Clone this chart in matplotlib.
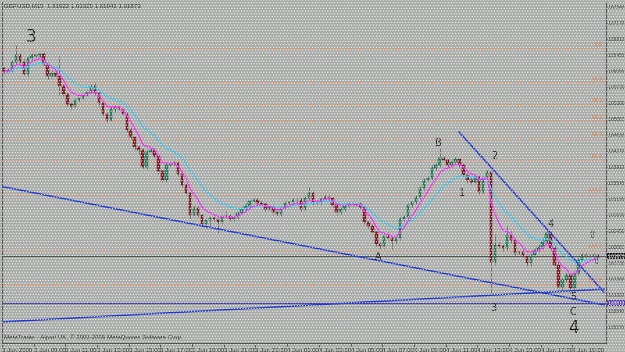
import numpy as np
import pandas as pd
import matplotlib
matplotlib.use("Agg")
import matplotlib.pyplot as plt
from matplotlib.patches import Rectangle

# ---- data (GBPUSD M15) ----
first_open = 1.6615
closes = [
    1.6606, 1.6611, 1.6629, 1.6645, 1.6629, 1.6602, 1.6638, 1.6645, 1.6643, 1.6647,
    1.6625, 1.6597, 1.6604, 1.6597, 1.6575, 1.6556, 1.6534, 1.6529, 1.6543, 1.6547,
    1.6554, 1.6561, 1.6575, 1.6559, 1.6536, 1.6511, 1.6497, 1.6522, 1.6527, 1.6522,
    1.6511, 1.6475, 1.6459, 1.6436, 1.6429, 1.6390, 1.6425, 1.6429, 1.6415, 1.6381,
    1.6361, 1.6395, 1.6397, 1.6400, 1.6375, 1.6350, 1.6331, 1.6281, 1.6297, 1.6281,
    1.6261, 1.6270, 1.6275, 1.6272, 1.6265, 1.6277, 1.6279, 1.6272, 1.6277, 1.6286,
    1.6295, 1.6302, 1.6313, 1.6315, 1.6309, 1.6306, 1.6295, 1.6300, 1.6288, 1.6284,
    1.6297, 1.6309, 1.6311, 1.6315, 1.6315, 1.6295, 1.6320, 1.6331, 1.6311, 1.6311,
    1.6318, 1.6322, 1.6320, 1.6304, 1.6288, 1.6295, 1.6302, 1.6306, 1.6306, 1.6306,
    1.6300, 1.6265, 1.6256, 1.6243, 1.6215, 1.6211, 1.6234, 1.6229, 1.6222, 1.6229,
    1.6272, 1.6277, 1.6304, 1.6311, 1.6322, 1.6343, 1.6361, 1.6365, 1.6388, 1.6395,
    1.6411, 1.6406, 1.6395, 1.6402, 1.6409, 1.6395, 1.6372, 1.6361, 1.6356, 1.6368,
    1.6334, 1.6365, 1.6379, 1.6175, 1.6213, 1.6211, 1.6206, 1.6236, 1.6225, 1.6195,
    1.6197, 1.6188, 1.6172, 1.6190, 1.6202, 1.6209, 1.6220, 1.6240, 1.6206, 1.6168,
    1.6118, 1.6134, 1.6145, 1.6115, 1.6150, 1.6179, 1.6190, 1.6188, 1.6188, 1.6190,
    1.6187,
]
# wick lengths beyond the body, in pips
wick_up = [
    3, 4, 5, 23, 4, 6, 5, 4, 3, 5,
    4, 3, 6, 4, 45, 5, 3, 4, 4, 3,
    5, 4, 4, 6, 3, 4, 5, 6, 3, 4,
    5, 4, 6, 3, 5, 4, 6, 5, 4, 3,
    4, 8, 5, 6, 4, 3, 5, 4, 6, 5,
    3, 4, 5, 4, 3, 5, 12, 4, 3, 5,
    4, 6, 3, 5, 4, 6, 5, 3, 4, 6,
    5, 4, 3, 5, 6, 8, 4, 15, 4, 3,
    5, 6, 4, 3, 5, 4, 3, 4, 6, 3,
    4, 5, 3, 4, 5, 6, 4, 8, 5, 3,
    6, 4, 5, 3, 4, 6, 4, 5, 6, 4,
    23, 5, 4, 6, 5, 3, 4, 5, 6, 4,
    5, 4, 6, 3, 25, 6, 4, 20, 8, 5,
    4, 6, 4, 3, 5, 6, 8, 4, 5, 6,
    10, 5, 6, 4, 3, 8, 6, 4, 5, 4,
    3,
]
wick_dn = [
    4, 3, 5, 4, 6, 3, 5, 4, 3, 4,
    5, 6, 4, 3, 20, 4, 5, 6, 3, 4,
    4, 3, 5, 4, 6, 5, 4, 3, 6, 4,
    3, 5, 4, 6, 8, 5, 4, 3, 5, 6,
    4, 5, 3, 4, 6, 5, 4, 8, 5, 4,
    6, 10, 14, 5, 25, 4, 3, 6, 4, 5,
    3, 4, 5, 4, 6, 3, 4, 5, 6, 4,
    5, 3, 4, 6, 4, 5, 4, 3, 6, 5,
    4, 3, 5, 4, 6, 5, 4, 3, 5, 4,
    6, 5, 4, 3, 6, 8, 5, 4, 18, 6,
    5, 4, 3, 6, 4, 5, 4, 3, 5, 4,
    4, 5, 6, 4, 3, 5, 4, 6, 5, 4,
    6, 5, 4, 70, 8, 5, 6, 4, 8, 6,
    5, 4, 8, 6, 4, 5, 4, 3, 5, 6,
    8, 10, 6, 12, 5, 4, 3, 5, 4, 3,
    4,
]

time_labels = ["3 Jun 2009", "3 Jun 09:00", "3 Jun 11:00", "3 Jun 13:00", "3 Jun 15:00",
               "3 Jun 17:00", "3 Jun 19:00", "3 Jun 21:00", "3 Jun 23:00", "4 Jun 01:00",
               "4 Jun 03:00", "4 Jun 05:00", "4 Jun 07:00", "4 Jun 09:00", "4 Jun 11:00",
               "4 Jun 13:00", "4 Jun 15:00", "4 Jun 17:00", "4 Jun 19:00"]
price_ticks = [1.67540, 1.67170, 1.66810, 1.66450, 1.66080, 1.65720, 1.65360, 1.65000,
               1.64630, 1.64270, 1.63910, 1.63540, 1.63180, 1.62820, 1.62450, 1.62090,
               1.61730, 1.61360, 1.61000, 1.60640, 1.60270]

fib_high = 1.6661
fib_low = 1.6329
fib_levels = [0.0, 23.6, 38.2, 50.0, 61.8, 76.4, 100.0, 138.2, 161.8]

# trendlines: (bar0, price0, bar1, price1)
trendlines = [(-1.0, 1.6347, 151.5, 1.6077),
              (-1.0, 1.6038, 151.5, 1.6113),
              (114.9, 1.6470, 151.5, 1.6106)]
bid_price = 1.61873
hline_price = 1.6081

wave_labels = [("B", 109.6, 1.6445), ("2", 123.8, 1.6415), ("1", 115.6, 1.6331),
               ("A", 94.5, 1.6185), ("3", 123.5, 1.6070), ("4", 138.0, 1.6262),
               ("5", 143.7, 1.6095), ("C", 143.7, 1.6061)]

# ---- build OHLC ----
closes = np.array(closes)
opens = np.concatenate([[first_open], closes[:-1]])
highs = np.maximum(opens, closes) + np.array(wick_up) / 10000
lows = np.minimum(opens, closes) - np.array(wick_dn) / 10000
bars = np.arange(len(closes))
ma_fast = pd.Series(closes).ewm(span=6, adjust=False).mean()
ma_slow = pd.Series(closes).ewm(span=14, adjust=False).mean()

BG = "#a9aca8"
SMALL = "Liberation Sans"
plt.rcParams['hatch.color'] = '#f4f4f4'
plt.rcParams['hatch.linewidth'] = 0.45
fig = plt.figure(figsize=(6.25, 3.52), dpi=100, facecolor=BG)

ax = fig.add_axes([2 / 625, 1 - 343 / 352, 604 / 625, 341 / 352])
ax.set_facecolor("none")
ax.set_xlim(-0.5, 152.0)
ax.set_ylim(1.59904, 1.67655)

# fibonacci levels
rng = fib_high - fib_low
for lvl in fib_levels:
    p = fib_high - lvl / 100 * rng
    ax.axhline(p, color="#e2946c", lw=0.8, ls=(0, (7, 4)), zorder=1)
    ax.text(151.3, p + 0.0002, f"{lvl:.1f}", color="#e0703a", fontsize=4.4, family=SMALL,
            ha="right", va="bottom", zorder=2)

ax.axhline(bid_price, color="#505050", lw=0.8, zorder=2)
ax.axhline(hline_price, color="#3a30a8", lw=0.9, zorder=2)

# candles
up = closes >= opens
ax.vlines(bars, lows, highs, color="#6a6a6a", lw=0.7, zorder=3)
body_bottom = np.minimum(opens, closes)
body_h = np.maximum(np.abs(closes - opens), 0.00006)
ax.bar(bars[up], body_h[up], bottom=body_bottom[up], width=0.62,
       color="#1f8a62", edgecolor="#0c4a30", linewidth=0.3, zorder=4)
ax.bar(bars[~up], body_h[~up], bottom=body_bottom[~up], width=0.62,
       color="#8c1a22", edgecolor="#4a0a10", linewidth=0.3, zorder=4)

ax.plot(bars, ma_slow, color="#27c4f2", lw=0.9, zorder=5)
ax.plot(bars, ma_fast, color="#ff1aff", lw=0.9, zorder=5)

for x0, y0, x1, y1 in trendlines:
    ax.plot([x0, x1], [y0, y1], color="#1c34d0", lw=1.1, zorder=6, clip_on=True)

for txt, bx, py in wave_labels:
    ax.text(bx, py, txt, fontsize=7, color="#1a1a1a", ha="center", va="center", zorder=7)
ax.text(6.8, 1.6686, "3", fontsize=12, color="#1a1a1a", ha="center", va="center", zorder=7)
ax.text(143.7, 1.6025, "4", fontsize=12, color="#1a1a1a", ha="center", va="center", zorder=7)
ax.text(148.5, 1.6236, "\u21e7", fontsize=8, color="#404040", ha="center", va="center", zorder=7)
ax.text(149.5, 1.6177, "\u21e7", fontsize=8, color="#404040", ha="center", va="center", zorder=7)

ax.text(0.0, 1.6757, "GBPUSD,M15  1.61922 1.61925 1.61841 1.61873", fontsize=4.4,
        family=SMALL, color="#202020", ha="left", va="center", zorder=7)
ax.text(0.0, 1.6003, "MetaTrader - Alpari UK, \u00a9 2001-2009 MetaQuotes Software Corp.",
        fontsize=4.4, family=SMALL, color="#202020", ha="left", va="center", zorder=7)

# axes styling
ax.spines["top"].set_visible(False)
for s in ["left", "right", "bottom"]:
    ax.spines[s].set_color("#505050")
    ax.spines[s].set_linewidth(0.8)
ax.yaxis.tick_right()
ax.set_yticks(price_ticks)
ax.set_yticklabels([f"{v:.5f}" for v in price_ticks], family=SMALL)
ax.tick_params(axis="y", labelsize=3.4, colors="#303030", length=1.0, width=0.5, pad=0.4)
ax.set_xticks(np.arange(0, len(time_labels) * 8, 8) - 0.5)
ax.set_xticklabels(time_labels, ha="left", family=SMALL)
ax.tick_params(axis="x", labelsize=4.4, colors="#303030", length=3, width=0.5, pad=0.5,
               direction="out")

# right-side price boxes
ax.text(1.0022, bid_price, "1.61873", transform=ax.get_yaxis_transform(), fontsize=3.4,
        family=SMALL, color="white", ha="left", va="center",
        bbox=dict(boxstyle="square,pad=0.1", fc="#101010", ec="none"), zorder=8, clip_on=False)
ax.text(1.0022, hline_price, "1.60810", transform=ax.get_yaxis_transform(), fontsize=3.4,
        family=SMALL, color="white", ha="left", va="center",
        bbox=dict(boxstyle="square,pad=0.1", fc="#4a2aa0", ec="none"), zorder=8, clip_on=False)

# white dot screen over the whole picture, as in the screenshot
fig.patches.append(Rectangle((0, 0), 1, 1, transform=fig.transFigure, facecolor="none",
                             edgecolor="#f4f4f4", hatch="......", linewidth=0, zorder=10))

fig.savefig("out.png", dpi=100, facecolor=BG)
